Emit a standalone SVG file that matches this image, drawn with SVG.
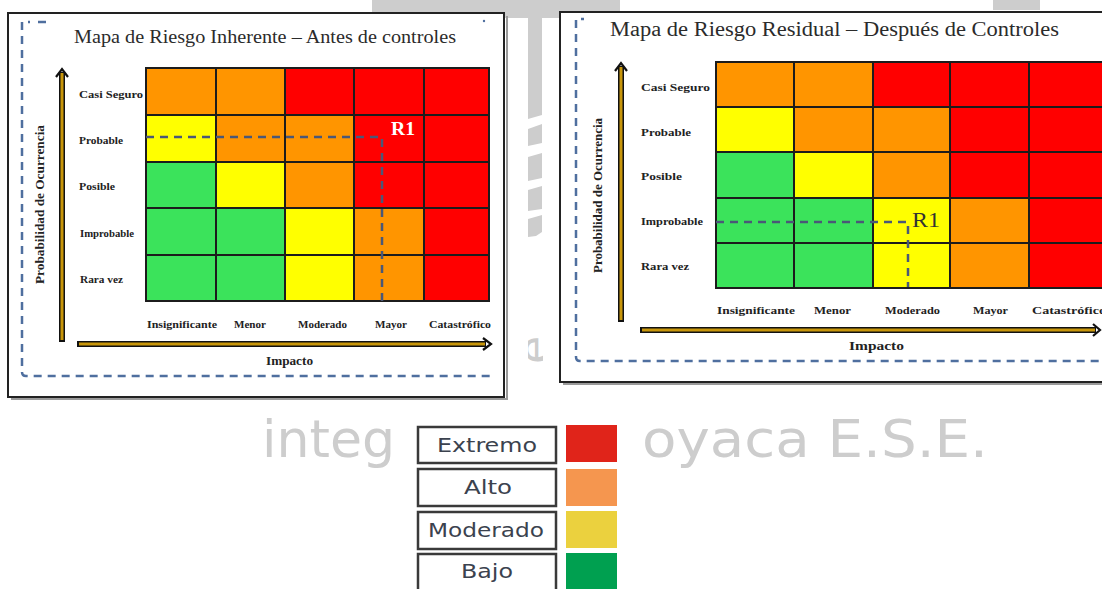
<svg xmlns="http://www.w3.org/2000/svg" width="1102" height="589" viewBox="0 0 1102 589">
<style>
.o{fill:#FF9500}.r{fill:#FF0000}.y{fill:#FFFF00}.g{fill:#3BE35B}
.grid{fill:none;stroke:#1c1c1c;stroke-width:2}
.frame{fill:#fff;stroke:#222;stroke-width:2}
.shadow{fill:none;stroke:#9a9a9a;stroke-width:2}
.dash{fill:none;stroke:#4f6f9f;stroke-width:2.5;stroke-dasharray:8 6}
.r1dash{fill:none;stroke:#4a5878;stroke-width:2.5;stroke-dasharray:8 6}
.title{font-family:"Liberation Serif",serif;fill:#2b2b2b}
.lbl{font-family:"Liberation Serif",serif;font-weight:bold;font-size:10px;fill:#222}
.axl{font-family:"Liberation Serif",serif;font-weight:bold;font-size:12px;fill:#222}
.axo{fill:none;stroke:#111;stroke-width:6}
.axi{fill:none;stroke:#C8960A;stroke-width:3}
.head{fill:none;stroke:#111;stroke-width:2.2}
.wm{fill:#cdcdcd}
.wmt{font-family:"DejaVu Sans Condensed","DejaVu Sans",sans-serif;font-size:52px;fill:#cdcdcd}
.lbox{fill:#fff;stroke:#3a3a3a;stroke-width:2.5}
.ltxt{font-family:"DejaVu Sans Condensed","DejaVu Sans",sans-serif;font-size:19px;fill:#3b424e;text-anchor:middle}
</style>
<defs>
<clipPath id="eclip"><rect x="528" y="322" width="15" height="42"/></clipPath>
</defs>
<rect x="0" y="0" width="1102" height="589" fill="#fff"/>

<g id="watermark">
<rect class="wm" x="372" y="0" width="248" height="18"/>
<rect class="wm" x="993" y="0" width="47" height="10"/>
<polygon class="wm" points="528,0 542,0 542,115 528,119"/>
<polygon class="wm" points="528,129 542,124 542,143 528,146"/>
<polygon class="wm" points="528,157 542,153 542,178 528,181"/>
<polygon class="wm" points="528,190 542,186 542,209 528,211"/>
<polygon class="wm" points="528,219 542,215 542,232 536,236 528,237"/>
<g clip-path="url(#eclip)">
<text transform="translate(550,364) rotate(-90)" font-family="DejaVu Sans, sans-serif" font-size="46" fill="#cdcdcd">e</text>
</g>
<text class="wmt" x="262" y="457" textLength="133" lengthAdjust="spacingAndGlyphs">integ</text>
<text class="wmt" x="642" y="457" textLength="346" lengthAdjust="spacingAndGlyphs">oyaca E.S.E.</text>
</g>

<g id="map-inherente">
<path class="shadow" d="M11,399 H507 V16"/>
<rect class="frame" x="8" y="13" width="496" height="384"/>
<path class="dash" d="M22,30 V22 H30 M38,22 H46"/>
<path class="dash" d="M22,36 V372 Q22,376 26,376 H490"/>
<circle cx="484" cy="21" r="1.2" fill="#4f6f9f"/>
<text class="title" x="74" y="43" font-size="19" textLength="382" lengthAdjust="spacingAndGlyphs">Mapa de Riesgo Inherente – Antes de controles</text>
<g id="grid-inherente">
<rect class="o" x="146" y="68" width="70" height="47"/><rect class="o" x="216" y="68" width="69" height="47"/><rect class="r" x="285" y="68" width="69" height="47"/><rect class="r" x="354" y="68" width="70" height="47"/><rect class="r" x="424" y="68" width="65" height="47"/>
<rect class="y" x="146" y="115" width="70" height="47"/><rect class="o" x="216" y="115" width="69" height="47"/><rect class="o" x="285" y="115" width="69" height="47"/><rect class="r" x="354" y="115" width="70" height="47"/><rect class="r" x="424" y="115" width="65" height="47"/>
<rect class="g" x="146" y="162" width="70" height="46"/><rect class="y" x="216" y="162" width="69" height="46"/><rect class="o" x="285" y="162" width="69" height="46"/><rect class="r" x="354" y="162" width="70" height="46"/><rect class="r" x="424" y="162" width="65" height="46"/>
<rect class="g" x="146" y="208" width="70" height="47"/><rect class="g" x="216" y="208" width="69" height="47"/><rect class="y" x="285" y="208" width="69" height="47"/><rect class="o" x="354" y="208" width="70" height="47"/><rect class="r" x="424" y="208" width="65" height="47"/>
<rect class="g" x="146" y="255" width="70" height="46"/><rect class="g" x="216" y="255" width="69" height="46"/><rect class="y" x="285" y="255" width="69" height="46"/><rect class="o" x="354" y="255" width="70" height="46"/><rect class="r" x="424" y="255" width="65" height="46"/>
<path class="grid" d="M146,68 H489 V301 H146 Z M216,68 V301 M285,68 V301 M354,68 V301 M424,68 V301 M146,115 H489 M146,162 H489 M146,208 H489 M146,255 H489"/>
</g>
<text x="391" y="135" font-family="Liberation Serif,serif" font-weight="bold" font-size="19" fill="#fff" textLength="24" lengthAdjust="spacingAndGlyphs">R1</text>
<text class="lbl" x="79" y="98" textLength="64" lengthAdjust="spacingAndGlyphs">Casi Seguro</text>
<text class="lbl" x="79" y="144" textLength="44" lengthAdjust="spacingAndGlyphs">Probable</text>
<text class="lbl" x="79" y="190" textLength="36" lengthAdjust="spacingAndGlyphs">Posible</text>
<text class="lbl" x="80" y="237" textLength="54" lengthAdjust="spacingAndGlyphs">Improbable</text>
<text class="lbl" x="80" y="283" textLength="43" lengthAdjust="spacingAndGlyphs">Rara vez</text>
<text class="lbl" x="147" y="328" textLength="70" lengthAdjust="spacingAndGlyphs">Insignificante</text>
<text class="lbl" x="234" y="328" textLength="32" lengthAdjust="spacingAndGlyphs">Menor</text>
<text class="lbl" x="298" y="328" textLength="49" lengthAdjust="spacingAndGlyphs">Moderado</text>
<text class="lbl" x="375" y="328" textLength="32" lengthAdjust="spacingAndGlyphs">Mayor</text>
<text class="lbl" x="429" y="328" textLength="62" lengthAdjust="spacingAndGlyphs">Catastrófico</text>
<path class="axo" d="M62,342 V72"/><path class="axi" d="M62,340 V73"/>
<path class="head" d="M56,77 L62,69 L68,77"/>
<path class="axo" d="M77,344 H486"/><path class="axi" d="M79,344 H485"/>
<path class="head" d="M483,338 L491,344 L483,350"/>
<text class="axl" x="266" y="365" textLength="47" lengthAdjust="spacingAndGlyphs">Impacto</text>
<text class="axl" transform="translate(44,284) rotate(-90)" textLength="159" lengthAdjust="spacingAndGlyphs">Probabilidad de Ocurrencia</text>
</g>

<g id="map-residual">
<path class="shadow" d="M563,384 H1102"/>
<rect class="frame" x="560" y="12" width="560" height="370"/>
<path class="dash" d="M576,28 V19 H584"/>
<path class="dash" d="M576,34 V357 Q576,361 580,361 H1102"/>
<text class="title" x="610" y="36" font-size="20" textLength="449" lengthAdjust="spacingAndGlyphs">Mapa de Riesgo Residual – Después de Controles</text>
<g id="grid-residual">
<rect class="o" x="716" y="62" width="78" height="45"/><rect class="o" x="794" y="62" width="79" height="45"/><rect class="r" x="873" y="62" width="77" height="45"/><rect class="r" x="950" y="62" width="79" height="45"/><rect class="r" x="1029" y="62" width="73" height="45"/>
<rect class="y" x="716" y="107" width="78" height="45"/><rect class="o" x="794" y="107" width="79" height="45"/><rect class="o" x="873" y="107" width="77" height="45"/><rect class="r" x="950" y="107" width="79" height="45"/><rect class="r" x="1029" y="107" width="73" height="45"/>
<rect class="g" x="716" y="152" width="78" height="46"/><rect class="y" x="794" y="152" width="79" height="46"/><rect class="o" x="873" y="152" width="77" height="46"/><rect class="r" x="950" y="152" width="79" height="46"/><rect class="r" x="1029" y="152" width="73" height="46"/>
<rect class="g" x="716" y="198" width="78" height="45"/><rect class="g" x="794" y="198" width="79" height="45"/><rect class="y" x="873" y="198" width="77" height="45"/><rect class="o" x="950" y="198" width="79" height="45"/><rect class="r" x="1029" y="198" width="73" height="45"/>
<rect class="g" x="716" y="243" width="78" height="45"/><rect class="g" x="794" y="243" width="79" height="45"/><rect class="y" x="873" y="243" width="77" height="45"/><rect class="o" x="950" y="243" width="79" height="45"/><rect class="r" x="1029" y="243" width="73" height="45"/>
<path class="grid" d="M1104,62 H716 V288 H1104 M794,62 V288 M873,62 V288 M950,62 V288 M1029,62 V288 M716,107 H1104 M716,152 H1104 M716,198 H1104 M716,243 H1104"/>
</g>
<text x="912" y="227" font-family="Liberation Serif,serif" font-size="22" fill="#333" textLength="28" lengthAdjust="spacingAndGlyphs">R1</text>
<text class="lbl" x="641" y="91" textLength="69" lengthAdjust="spacingAndGlyphs">Casi Seguro</text>
<text class="lbl" x="641" y="136" textLength="50" lengthAdjust="spacingAndGlyphs">Probable</text>
<text class="lbl" x="641" y="180" textLength="41" lengthAdjust="spacingAndGlyphs">Posible</text>
<text class="lbl" x="641" y="225" textLength="62" lengthAdjust="spacingAndGlyphs">Improbable</text>
<text class="lbl" x="641" y="270" textLength="48" lengthAdjust="spacingAndGlyphs">Rara vez</text>
<text class="lbl" x="717" y="314" textLength="78" lengthAdjust="spacingAndGlyphs">Insignificante</text>
<text class="lbl" x="814" y="314" textLength="37" lengthAdjust="spacingAndGlyphs">Menor</text>
<text class="lbl" x="885" y="314" textLength="55" lengthAdjust="spacingAndGlyphs">Moderado</text>
<text class="lbl" x="973" y="314" textLength="35" lengthAdjust="spacingAndGlyphs">Mayor</text>
<text class="lbl" x="1032" y="314" textLength="74" lengthAdjust="spacingAndGlyphs">Catastrófico</text>
<path class="axo" d="M621,322 V66"/><path class="axi" d="M621,320 V67"/>
<path class="head" d="M615,71 L621,63 L627,71"/>
<path class="axo" d="M640,330 H1096"/><path class="axi" d="M642,330 H1095"/>
<path class="head" d="M1093,324 L1100,330 L1093,336"/>
<text class="axl" x="849" y="350" textLength="55" lengthAdjust="spacingAndGlyphs">Impacto</text>
<text class="axl" transform="translate(602,273) rotate(-90)" textLength="155" lengthAdjust="spacingAndGlyphs">Probabilidad de Ocurrencia</text>
</g>

<g id="connectors">
<path class="r1dash" d="M146,137 H382 V305"/>
<path class="r1dash" d="M716,222 H908 V287"/>
</g>

<g id="legend">
<g id="leg-extremo"><rect class="lbox" x="418" y="427" width="138" height="36"/><rect x="566" y="425" width="51" height="37" fill="#E0241A"/><text class="ltxt" x="487" y="452" textLength="100" lengthAdjust="spacingAndGlyphs">Extremo</text></g>
<g id="leg-alto"><rect class="lbox" x="418" y="469" width="138" height="37"/><rect x="566" y="469" width="51" height="37" fill="#F5964F"/><text class="ltxt" x="488" y="494" textLength="48" lengthAdjust="spacingAndGlyphs">Alto</text></g>
<g id="leg-moderado"><rect class="lbox" x="418" y="512" width="138" height="37"/><rect x="566" y="511" width="51" height="37" fill="#EBD13E"/><text class="ltxt" x="486" y="537" textLength="116" lengthAdjust="spacingAndGlyphs">Moderado</text></g>
<g id="leg-bajo"><rect class="lbox" x="418" y="554" width="138" height="40"/><rect x="566" y="553" width="51" height="36" fill="#00A050"/><text class="ltxt" x="487" y="578" textLength="52" lengthAdjust="spacingAndGlyphs">Bajo</text></g>
</g>
</svg>
